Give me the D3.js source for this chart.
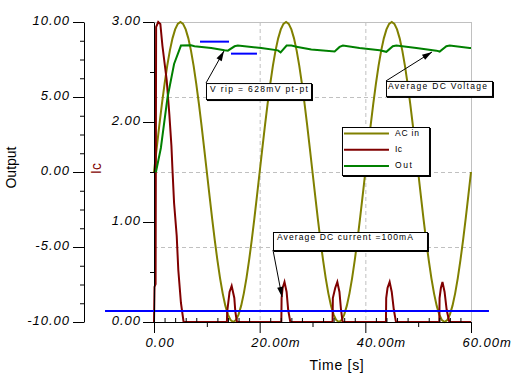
<!DOCTYPE html>
<html>
<head>
<meta charset="utf-8">
<script src="https://cdn.jsdelivr.net/npm/d3@7"></script>
<style>
  body { margin: 0; background: #fff; }
  svg { display: block; }
  .lbl { font-family: "Liberation Sans", Arial, sans-serif; font-style: italic; font-size: 13px; letter-spacing: 1px; fill: #000; }
  .note { font-family: "Liberation Sans", Arial, sans-serif; font-size: 8.5px; fill: #000; }
</style>
</head>
<body>
<svg id="root" width="518" height="388"></svg>
<script>
// AC input, one sample every 0.5 ms from 0 to 60 ms (V)
const acStep = 0.5;
const acValues = [
  0,
  1.56, 3.09, 4.54, 5.88, 7.07, 8.09, 8.91, 9.51, 9.88, 10, 9.88, 9.51, 8.91, 8.09, 7.07, 5.88, 4.54, 3.09, 1.56, 0,
  -1.56, -3.09, -4.54, -5.88, -7.07, -8.09, -8.91, -9.51, -9.88, -10, -9.88, -9.51, -8.91, -8.09, -7.07, -5.88, -4.54, -3.09, -1.56, 0,
  1.56, 3.09, 4.54, 5.88, 7.07, 8.09, 8.91, 9.51, 9.88, 10, 9.88, 9.51, 8.91, 8.09, 7.07, 5.88, 4.54, 3.09, 1.56, 0,
  -1.56, -3.09, -4.54, -5.88, -7.07, -8.09, -8.91, -9.51, -9.88, -10, -9.88, -9.51, -8.91, -8.09, -7.07, -5.88, -4.54, -3.09, -1.56, 0,
  1.56, 3.09, 4.54, 5.88, 7.07, 8.09, 8.91, 9.51, 9.88, 10, 9.88, 9.51, 8.91, 8.09, 7.07, 5.88, 4.54, 3.09, 1.56, 0,
  -1.56, -3.09, -4.54, -5.88, -7.07, -8.09, -8.91, -9.51, -9.88, -10, -9.88, -9.51, -8.91, -8.09, -7.07, -5.88, -4.54, -3.09, -1.56, 0
];

// capacitor current (ms, A)
const icTimes = [0, 0.1, 0.3, 0.4, 0.8, 1.2, 1.6, 2.4, 2.9, 3.3, 3.5, 3.8, 4.3, 4.6, 5.1, 5.6,
  13.8, 13.85, 14.3, 14.7, 15.2, 15.4, 15.7,
  24.1, 24.15, 24.35, 24.7, 25.1, 25.4, 25.8,
  33.8, 33.85, 34.3, 34.7, 35.1, 35.4, 35.7,
  43.9, 43.95, 44.2, 44.6, 45.0, 45.4, 45.8,
  54.0, 54.05, 54.3, 54.6, 55.0, 55.4, 55.9,
  60];
const icValues = [0, 0.35, 0.38, 2.95, 3.0, 2.98, 2.76, 2.42, 2.08, 1.76, 1.52, 1.19, 0.86, 0.52, 0.19, 0,
  0, 0.1, 0.3, 0.36, 0.24, 0.1, 0,
  0, 0.24, 0.34, 0.4, 0.3, 0.12, 0,
  0, 0.24, 0.34, 0.4, 0.3, 0.12, 0,
  0, 0.24, 0.34, 0.4, 0.3, 0.12, 0,
  0, 0.24, 0.34, 0.4, 0.3, 0.12, 0,
  0];

// output voltage (ms, V)
const outTimes = [0, 0.4, 1.3, 2.56, 3.8, 5.1, 7.0, 7.67, 10.83, 13.35, 13.98, 15.25, 15.87, 20.3, 23.45, 23.96,
  25.1, 26.0, 27.18, 29.77, 34.19, 35.13, 35.76, 38.9, 42.7, 43.98, 45.2, 45.87, 49.66, 53.45, 54.07,
  55.34, 55.97, 59.75, 60];
const outValues = [0, 0.05, 1.6, 4.97, 7.2, 8.43, 8.45, 8.38, 8.27, 8.11, 8.09, 8.38, 8.43, 8.27, 8.11, 7.98,
  8.43, 8.43, 8.34, 8.16, 8.03, 8.34, 8.43, 8.27, 8.11, 8.01, 8.38, 8.43, 8.27, 8.09, 8.03,
  8.38, 8.43, 8.27, 8.27];

// blue reference lines
const dcCurrent = 0.11;            // A
const dcCurrentSpan = [-9.27, 63.4];  // ms
const ripHigh = 8.69, ripHighSpan = [8.71, 14.2];
const ripLow = 7.89, ripLowSpan = [14.57, 19.49];

const outTicks = [-10, -5, 0, 5, 10];
const icTicks = [0, 1, 2, 3];
const timeTicks = [0, 20, 40, 60];
const timeLabels = ["0.00", "20.00m", "40.00m", "60.00m"];

const seriesNames = ["AC in", "Ic", "Out"];
const seriesColors = ["#808000", "#800000", "#008000"];

(function () {
  const svg = d3.select("#root");

  const x = d3.scaleLinear().domain([0, 60]).range([154, 471]);
  const yOut = d3.scaleLinear().domain([-10, 10]).range([322, 22]);
  const yIc = d3.scaleLinear().domain([0, 3]).range([322, 22]);

  // grid
  const grid = svg.append("g").attr("stroke", "#c0c0c0").attr("stroke-width", 1);
  [-5, 0, 5, 10].forEach(v => {
    grid.append("line")
      .attr("x1", x(0)).attr("x2", x(60))
      .attr("y1", yOut(v) + 0.5).attr("y2", yOut(v) + 0.5)
      .attr("stroke-dasharray", v === 10 ? null : "4,3");
  });
  [20, 40, 60].forEach(t => {
    grid.append("line")
      .attr("x1", x(t) + 0.5).attr("x2", x(t) + 0.5)
      .attr("y1", yOut(10)).attr("y2", yOut(-10))
      .attr("stroke-dasharray", t === 60 ? null : "4,3");
  });

  // data
  const acData = acValues.map((v, i) => [i * acStep, v]);
  const icData = icTimes.map((t, i) => [t, icValues[i]]);
  const outData = outTimes.map((t, i) => [t, outValues[i]]);

  const lineOut = d3.line().x(d => x(d[0])).y(d => yOut(d[1]));
  const lineIc = d3.line().x(d => x(d[0])).y(d => yIc(d[1]));

  svg.append("path").datum(acData).attr("d", lineOut)
    .attr("fill", "none").attr("stroke", seriesColors[0]).attr("stroke-width", 2);
  svg.append("path").datum(icData).attr("d", lineIc)
    .attr("fill", "none").attr("stroke", seriesColors[1]).attr("stroke-width", 2);
  svg.append("path").datum(outData).attr("d", lineOut)
    .attr("fill", "none").attr("stroke", seriesColors[2]).attr("stroke-width", 2);

  // blue lines
  const blue = svg.append("g").attr("stroke", "#0000ff").attr("stroke-width", 2);
  blue.append("line")
    .attr("x1", x(dcCurrentSpan[0])).attr("x2", x(dcCurrentSpan[1]))
    .attr("y1", yIc(dcCurrent)).attr("y2", yIc(dcCurrent));
  blue.append("line")
    .attr("x1", x(ripHighSpan[0])).attr("x2", x(ripHighSpan[1]))
    .attr("y1", yOut(ripHigh)).attr("y2", yOut(ripHigh));
  blue.append("line")
    .attr("x1", x(ripLowSpan[0])).attr("x2", x(ripLowSpan[1]))
    .attr("y1", yOut(ripLow)).attr("y2", yOut(ripLow));

  // axes
  const fmt = v => v.toFixed(2);

  const outAxis = svg.append("g").attr("transform", "translate(84,0)")
    .call(d3.axisLeft(yOut).tickValues(outTicks).tickFormat(fmt).tickSize(11).tickSizeOuter(0).tickPadding(3));
  svg.append("g").attr("transform", "translate(84,0)")
    .call(d3.axisLeft(yOut).tickValues(d3.range(-10, 10.01, 1.25).filter(v => v % 5 !== 0)).tickFormat("").tickSize(4).tickSizeOuter(0))
    .select(".domain").remove();

  const icAxis = svg.append("g").attr("transform", "translate(154,0)")
    .call(d3.axisLeft(yIc).tickValues(icTicks).tickFormat(fmt).tickSize(11).tickSizeOuter(0).tickPadding(2));
  svg.append("g").attr("transform", "translate(154,0)")
    .call(d3.axisLeft(yIc).tickValues([0.5, 1.5, 2.5]).tickFormat("").tickSize(4).tickSizeOuter(0))
    .select(".domain").remove();

  const timeAxis = svg.append("g").attr("transform", "translate(0,322)")
    .call(d3.axisBottom(x).tickValues(timeTicks).tickFormat((d, i) => timeLabels[i]).tickSize(11).tickSizeOuter(0));
  svg.append("g").attr("transform", "translate(0,322)")
    .call(d3.axisBottom(x).tickValues([10, 30, 50]).tickFormat("").tickSize(5).tickSizeOuter(0))
    .select(".domain").remove();
  svg.append("g").attr("transform", "translate(0,322)")
    .call(d3.axisBottom(x).tickValues(d3.range(2, 60, 2).filter(v => v % 10 !== 0)).tickFormat("").tickSize(-4).tickSizeOuter(0))
    .select(".domain").remove();

  [outAxis, icAxis].forEach(a => {
    a.selectAll("text").attr("class", "lbl").attr("dy", 2.5).attr("font-family", null).attr("font-size", null);
  });
  timeAxis.selectAll("text").attr("class", "lbl").attr("text-anchor", "start")
    .attr("x", -9).attr("y", 25).attr("dy", 0);
  svg.selectAll(".domain, .tick line").attr("stroke", "#000");

  // axis titles
  svg.append("text").attr("transform", "translate(16,167.5) rotate(-90)")
    .attr("text-anchor", "middle")
    .style("font-family", "Liberation Sans, Arial, sans-serif").style("font-size", "14px")
    .text("Output");
  svg.append("text").attr("transform", "translate(101,168.5) rotate(-90)")
    .attr("text-anchor", "middle").attr("fill", "#800000")
    .style("font-family", "Liberation Sans, Arial, sans-serif").style("font-size", "14px")
    .text("Ic");
  svg.append("text").attr("x", 337).attr("y", 370)
    .attr("text-anchor", "middle")
    .style("font-family", "Liberation Sans, Arial, sans-serif").style("font-size", "14px")
    .style("letter-spacing", "0.7px")
    .text("Time [s]");

  // annotation boxes
  function box(bx, by, w, h) {
    svg.append("rect").attr("x", bx + 1).attr("y", by + 1).attr("width", w + 1).attr("height", h + 1).attr("fill", "#000");
    svg.append("rect").attr("x", bx + 0.5).attr("y", by + 0.5).attr("width", w).attr("height", h)
      .attr("fill", "#fff").attr("stroke", "#000").attr("stroke-width", 1);
  }
  function arrow(x1, y1, x2, y2) {
    const ang = Math.atan2(y2 - y1, x2 - x1), len = 10, hw = 3;
    svg.append("line").attr("x1", x1).attr("y1", y1).attr("x2", x2).attr("y2", y2)
      .attr("stroke", "#000").attr("stroke-width", 1);
    const bx = x2 - len * Math.cos(ang), by = y2 - len * Math.sin(ang);
    const pts = [[x2, y2],
      [bx + hw * Math.sin(ang), by - hw * Math.cos(ang)],
      [bx - hw * Math.sin(ang), by + hw * Math.cos(ang)]];
    svg.append("polygon").attr("points", pts.map(p => p.join(",")).join(" ")).attr("fill", "#000");
  }
  function note(str, tx, ty, w) {
    svg.append("text").attr("class", "note").attr("x", tx).attr("y", ty)
      .attr("textLength", w).attr("lengthAdjust", "spacing").text(str);
  }

  // V rip
  arrow(x(9.84), yOut(5.93), x(13.25), yOut(8.07));
  box(x(9.84), yOut(5.93), 105, 16);
  note("V  rip = 628mV  pt-pt", x(9.84) + 4, yOut(5.93) + 9, 98);

  // Average DC Voltage
  arrow(x(43.91), yOut(6.07), x(52.62), yOut(8.0));
  box(x(43.91), yOut(6.07), 106, 15);
  note("Average DC Voltage", x(43.91) + 2, yOut(6.07) + 7.8, 99);

  // Average DC current
  arrow(x(22.52), yOut(-4.0) + 18, x(24.23), yIc(0.25));
  box(x(22.52), yOut(-4.0), 154, 18);
  note("Average DC current =100mA", x(22.52) + 4, yOut(-4.0) + 7.6, 136);

  // legend
  const lgX = x(35.58), lgY = yOut(3.0);
  box(lgX, lgY, 87, 48);
  seriesNames.forEach((name, i) => {
    const ly = lgY + 6.5 + i * 16.3;
    svg.append("line").attr("x1", lgX + 2).attr("x2", lgX + 47)
      .attr("y1", ly).attr("y2", ly)
      .attr("stroke", seriesColors[i]).attr("stroke-width", 2);
    note(name, lgX + 53, ly + 2, [24, 7, 17][i]);
  });
})();
</script>
</body>
</html>
